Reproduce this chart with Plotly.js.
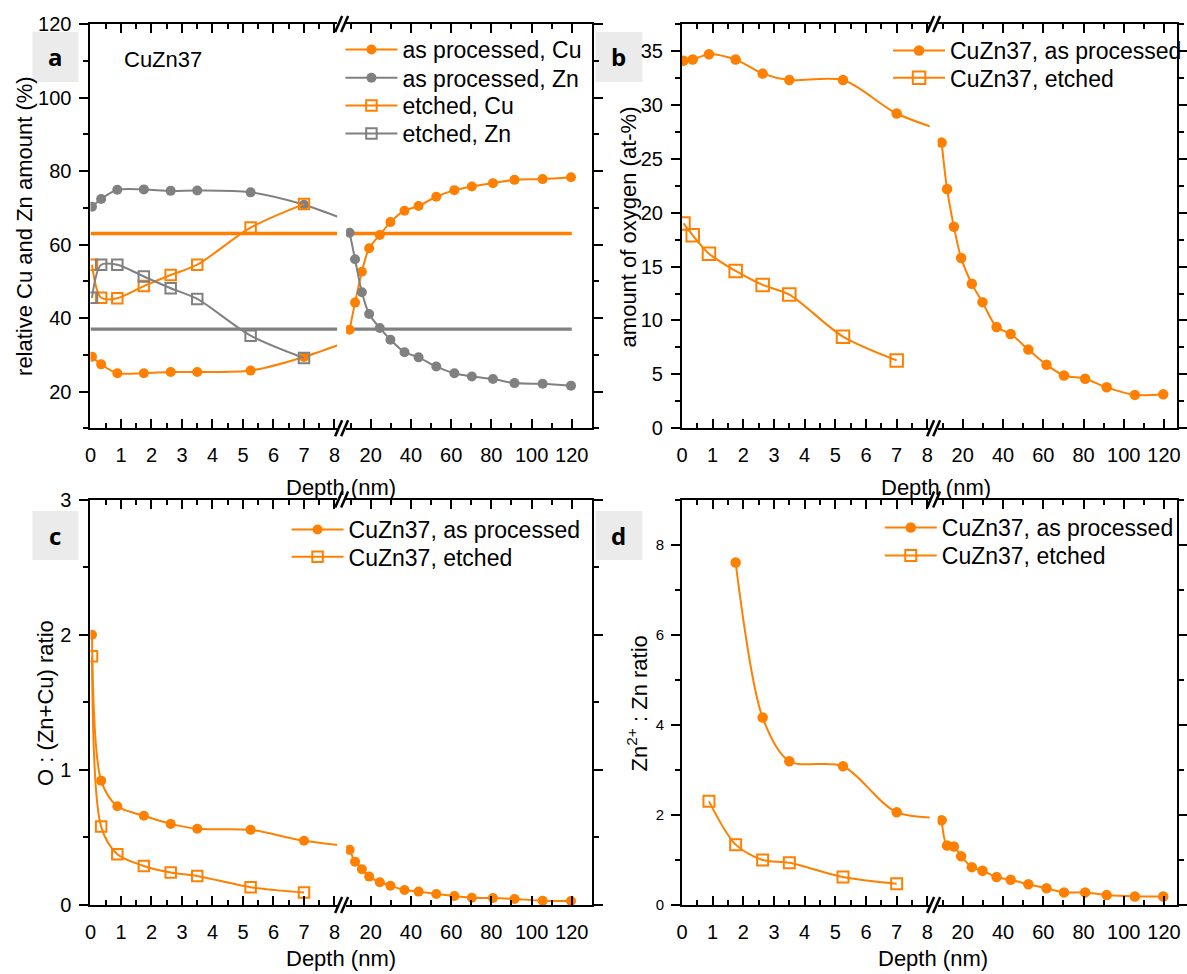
<!DOCTYPE html>
<html>
<head>
<meta charset="utf-8">
<script src="https://cdn.plot.ly/plotly-3.0.1.min.js"></script>
<style>html,body{margin:0;padding:0;background:#fff;}#chart{width:1187px;height:974px;}</style>
</head>
<body>
<div id="chart"></div>
<script>
// ---------------- DATA ----------------
const depthLeft  = [0.05, 0.35, 0.88, 1.75, 2.63, 3.5, 5.25, 7.0];
const depthRight = [9.5, 12.2, 15.6, 19.2, 24.5, 29.8, 36.8, 43.8, 52.6, 61.6, 70.3, 80.8, 91.5, 105.5, 119.6];
const nominalSpan = [0, 120];

// panel a: relative Cu and Zn amount (%)
const cuProcLeft  = [29.5, 27.4, 25.0, 25.0, 25.3, 25.3, 25.7, 29.4];
const cuProcRight = [36.8, 44.2, 52.6, 59.0, 62.6, 66.1, 69.2, 70.5, 73.0, 74.8, 75.8, 76.7, 77.6, 77.8, 78.3];
const znProcLeft  = [70.3, 72.4, 74.9, 75.0, 74.6, 74.7, 74.2, 70.8];
const znProcRight = [63.2, 56.0, 47.0, 41.1, 37.3, 34.1, 30.7, 29.3, 26.8, 25.0, 24.1, 23.4, 22.3, 22.1, 21.6];
const cuEtched    = [54.5, 45.5, 45.4, 48.7, 51.7, 54.5, 64.6, 71.0];
const znEtched    = [45.5, 54.5, 54.5, 51.3, 48.1, 45.2, 35.2, 29.1];
const nominalCu = 63;
const nominalZn = 37;

// panel b: amount of oxygen (at-%)
const oxProcLeft  = [34.1, 34.2, 34.7, 34.2, 32.9, 32.3, 32.3, 29.2];
const oxProcRight = [26.5, 22.2, 18.7, 15.8, 13.4, 11.7, 9.4, 8.75, 7.3, 5.9, 4.9, 4.6, 3.8, 3.1, 3.15];
const oxEtched    = [19.0, 17.9, 16.2, 14.6, 13.3, 12.4, 8.5, 6.3];

// panel c: O : (Zn+Cu) ratio
const rProcLeft  = [2.00, 0.92, 0.73, 0.66, 0.60, 0.564, 0.556, 0.475];
const rProcRight = [0.408, 0.32, 0.265, 0.21, 0.168, 0.143, 0.111, 0.099, 0.082, 0.067, 0.054, 0.052, 0.045, 0.032, 0.030];
const rEtched    = [1.84, 0.58, 0.376, 0.289, 0.24, 0.215, 0.131, 0.092];

// panel d: Zn2+ : Zn ratio
const zProcLeft  = [null, null, null, 7.6, 4.16, 3.19, 3.08, 2.06];
const zProcRight = [1.88, 1.32, 1.30, 1.08, 0.84, 0.76, 0.62, 0.56, 0.46, 0.37, 0.28, 0.28, 0.22, 0.19, 0.19];
const zEtched    = [null, null, 2.30, 1.34, 1.00, 0.94, 0.62, 0.47];

const leftTicks  = [0, 1, 2, 3, 4, 5, 6, 7, 8];
const rightTicks = [20, 40, 60, 80, 100, 120];

// ---------------- STYLE / GEOMETRY ----------------
const W = 1187, H = 974;
const ORANGE = '#FF8000', GREY = '#808080';
const FONT = 'Liberation Sans, Arial, sans-serif';
const px = p => p / W, py = p => 1 - p / H;

const panels = [
  {n:1, L:[90.7,338], R:[347,594],      top:24,    bot:428.3, lr:[0,8.087], rr:[7.76,130.3], yr:[10,120], dt:20, mdt:10, yfs:20},
  {n:2, L:[683.7,932], R:[940,1179.7],  top:24,    bot:428.3, lr:[0,8.075], rr:[7.52,126.3], yr:[0,37.5], dt:5, mdt:2.5, yfs:20},
  {n:3, L:[90.7,338], R:[347,594],      top:499.5, bot:905,   lr:[0,8.087], rr:[7.76,130.3], yr:[0,3], dt:1, mdt:0.5, yfs:20},
  {n:4, L:[683.7,932], R:[940,1179.7],  top:499.5, bot:905,   lr:[0,8.075], rr:[7.52,126.3], yr:[0,9], dt:2, mdt:1, yfs:15}
];

const layout = {
  width: W, height: H, margin: {l:0, r:0, t:0, b:0},
  paper_bgcolor: '#fff', plot_bgcolor: 'rgba(0,0,0,0)',
  font: {family: FONT, color: '#000', size: 20},
  showlegend: true, shapes: [], annotations: []
};

function axisIds(p){ const a = 2*p.n - 1, b = 2*p.n; return {xl: a, xr: b, yl: a, yr: b}; }
function key(prefix, i){ return prefix + (i === 1 ? '' : i); }
function ref(prefix, i){ return prefix + (i === 1 ? '' : i); }

panels.forEach(p => {
  const id = axisIds(p);
  const ydom = [py(p.bot), py(p.top)];
  const xCommon = {
    showline: true, linewidth: 2, linecolor: '#000', mirror: 'ticks',
    ticks: 'inside', ticklen: 9, tickwidth: 2, tickcolor: '#000',
    showgrid: false, zeroline: false, tickfont: {size: 20, family: FONT},
    ticklabelstandoff: 8
  };
  layout[key('xaxis', id.xl)] = Object.assign({}, xCommon, {
    domain: [px(p.L[0]), px(p.L[1])], range: p.lr, anchor: ref('y', id.yl),
    tickmode: 'array', tickvals: leftTicks, ticktext: leftTicks.map(String),
    minor: {dtick: 0.5, tick0: 0, ticks: 'inside', ticklen: 5, tickwidth: 2, tickcolor: '#000', showgrid: false}
  });
  layout[key('xaxis', id.xr)] = Object.assign({}, xCommon, {
    domain: [px(p.R[0]), px(p.R[1])], range: p.rr, anchor: ref('y', id.yr),
    tickmode: 'array', tickvals: rightTicks, ticktext: rightTicks.map(String),
    minor: {dtick: 10, tick0: 0, ticks: 'inside', ticklen: 5, tickwidth: 2, tickcolor: '#000', showgrid: false}
  });
  const yCommon = {
    domain: ydom, range: p.yr, showline: true, linewidth: 2, linecolor: '#000',
    ticks: 'outside', ticklen: 9, tickwidth: 2, tickcolor: '#000',
    tick0: 0, dtick: p.dt, showgrid: false, zeroline: false,
    minor: {dtick: p.mdt, tick0: 0, ticks: 'outside', ticklen: 5, tickwidth: 2, tickcolor: '#000', showgrid: false},
    tickfont: {size: p.yfs, family: FONT}, ticklabelstandoff: 4
  };
  layout[key('yaxis', id.yl)] = Object.assign({}, yCommon, {anchor: ref('x', id.xl), side: 'left'});
  layout[key('yaxis', id.yr)] = Object.assign({}, yCommon, {anchor: ref('x', id.xr), side: 'right', showticklabels: false});

  // axis-break marks "//" on bottom and top
  const cx = (p.L[1] + p.R[0]) / 2;
  [p.bot, p.top].forEach(yy => {
    [-3, 3].forEach(off => {
      const c = cx + off;
      layout.shapes.push({type: 'line', xref: 'paper', yref: 'paper',
        x0: px(c - 3.5), y0: py(yy + 8), x1: px(c + 3.5), y1: py(yy - 8),
        line: {color: '#000', width: 2.5}});
    });
  });
});

// panel letter boxes
const letters = [
  {t:'a', x0:32.5, x1:78.5, y0:32, y1:82},
  {t:'b', x0:597, x1:644, y0:32, y1:82},
  {t:'c', x0:32.5, x1:78.5, y0:511, y1:560},
  {t:'d', x0:597, x1:644, y0:511, y1:560}
];
letters.forEach(l => {
  layout.shapes.push({type:'rect', xref:'paper', yref:'paper', x0:px(l.x0), x1:px(l.x1), y0:py(l.y1), y1:py(l.y0),
    fillcolor:'#EBEBEB', line:{width:0}, layer:'below'});
  layout.annotations.push({xref:'paper', yref:'paper', x:px((l.x0+l.x1)/2), y:py((l.y0+l.y1)/2),
    xanchor:'center', yanchor:'middle', showarrow:false, text:'<b>'+l.t+'</b>',
    font:{family:'Open Sans, Noto Sans, sans-serif', size:24, color:'#000'}});
});

// texts
function ann(text, x, y, angle, size){
  layout.annotations.push({xref:'paper', yref:'paper', x:px(x), y:py(y), xanchor:'center', yanchor:'middle',
    showarrow:false, text:text, textangle:angle||0, font:{family:FONT, size:size||22, color:'#000'}});
}
ann('CuZn37', 163, 59, 0, 22);
ann('relative Cu and Zn amount (%)', 24, 226, -90, 22);
ann('amount of oxygen (at-%)', 630, 227, -90, 22);
ann('O : (Zn+Cu) ratio', 45, 703, -90, 22);
ann('Zn<sup>2+</sup> : Zn ratio', 639, 703, -90, 22);
ann('Depth (nm)', 342, 487, 0, 22);
ann('Depth (nm)', 938, 487, 0, 22);
ann('Depth (nm)', 342, 958, 0, 22);
ann('Depth (nm)', 935, 958, 0, 22);

// legends: one legend per entry so the row spacing can follow the reference
const LEG_FS = 23, LEG_OFF = 22;
const legBase = {xanchor:'left', yanchor:'top', bgcolor:'rgba(0,0,0,0)', borderwidth:0,
  font:{family:FONT, size:LEG_FS, color:'#000'}, itemwidth:52, tracegroupgap:0};
const legendRows = [
  {id:'legend',   lineStart:347,   center:50},
  {id:'legend2',  lineStart:347,   center:78.3},
  {id:'legend3',  lineStart:347,   center:106},
  {id:'legend4',  lineStart:347,   center:134},
  {id:'legend5',  lineStart:896,   center:51},
  {id:'legend6',  lineStart:896,   center:78.3},
  {id:'legend7',  lineStart:293,   center:530},
  {id:'legend8',  lineStart:293,   center:557.3},
  {id:'legend9',  lineStart:887.7, center:528},
  {id:'legend10', lineStart:887.7, center:556}
];
legendRows.forEach(r => {
  layout[r.id] = Object.assign({}, legBase, {x:px(r.lineStart - 5.7), y:py(r.center - LEG_OFF)});
});

// ---------------- TRACES ----------------
const traces = [];
function series(pn, name, legend, color, filled, msize, left, right){
  const id = axisIds(panels[pn-1]);
  const marker = filled
    ? {symbol:'circle', size:msize, color:color, line:{width:0}}
    : {symbol:'square-open', size:msize, color:color, line:{width:2, color:color}};
  const xL = right ? depthLeft.concat(depthRight) : depthLeft;
  const yL = right ? left.concat(right) : left;
  traces.push({type:'scatter', mode:'lines+markers', name:name, legend:legend, showlegend:true,
    x:xL, y:yL, xaxis:ref('x', id.xl), yaxis:ref('y', id.yl),
    line:{color:color, width:2, shape:'spline', smoothing:0.85}, marker:marker, cliponaxis:true});
  if (right) {
    traces.push({type:'scatter', mode:'lines+markers', name:name, legend:legend, showlegend:false,
      x:depthRight, y:right, xaxis:ref('x', id.xr), yaxis:ref('y', id.yr),
      line:{color:color, width:2, shape:'spline', smoothing:0.85}, marker:marker, cliponaxis:true});
  }
}
function nominal(pn, value, color){
  const id = axisIds(panels[pn-1]);
  [[id.xl, id.yl], [id.xr, id.yr]].forEach(a => {
    traces.push({type:'scatter', mode:'lines', showlegend:false, hoverinfo:'skip',
      x:nominalSpan, y:nominalSpan.map(() => value), xaxis:ref('x', a[0]), yaxis:ref('y', a[1]),
      line:{color:color, width:3.3}});
  });
}
// panel a
nominal(1, nominalCu, ORANGE);
nominal(1, nominalZn, GREY);
series(1, 'as processed, Cu', 'legend',  ORANGE, true, 10, cuProcLeft, cuProcRight);
series(1, 'as processed, Zn', 'legend2', GREY, true, 10, znProcLeft, znProcRight);
series(1, 'etched, Cu',       'legend3', ORANGE, false, 10.5, cuEtched, null);
series(1, 'etched, Zn',       'legend4', GREY, false, 10.5, znEtched, null);
// panel b
series(2, 'CuZn37, as processed', 'legend5', ORANGE, true, 10.5, oxProcLeft, oxProcRight);
series(2, 'CuZn37, etched',       'legend6', ORANGE, false, 12.5, oxEtched, null);
// panel c
series(3, 'CuZn37, as processed', 'legend7', ORANGE, true, 10, rProcLeft, rProcRight);
series(3, 'CuZn37, etched',       'legend8', ORANGE, false, 10.5, rEtched, null);
// panel d
series(4, 'CuZn37, as processed', 'legend9',  ORANGE, true, 10.5, zProcLeft, zProcRight);
series(4, 'CuZn37, etched',       'legend10', ORANGE, false, 11, zEtched, null);

Plotly.newPlot('chart', traces, layout, {staticPlot:true, displayModeBar:false});
</script>
</body>
</html>
